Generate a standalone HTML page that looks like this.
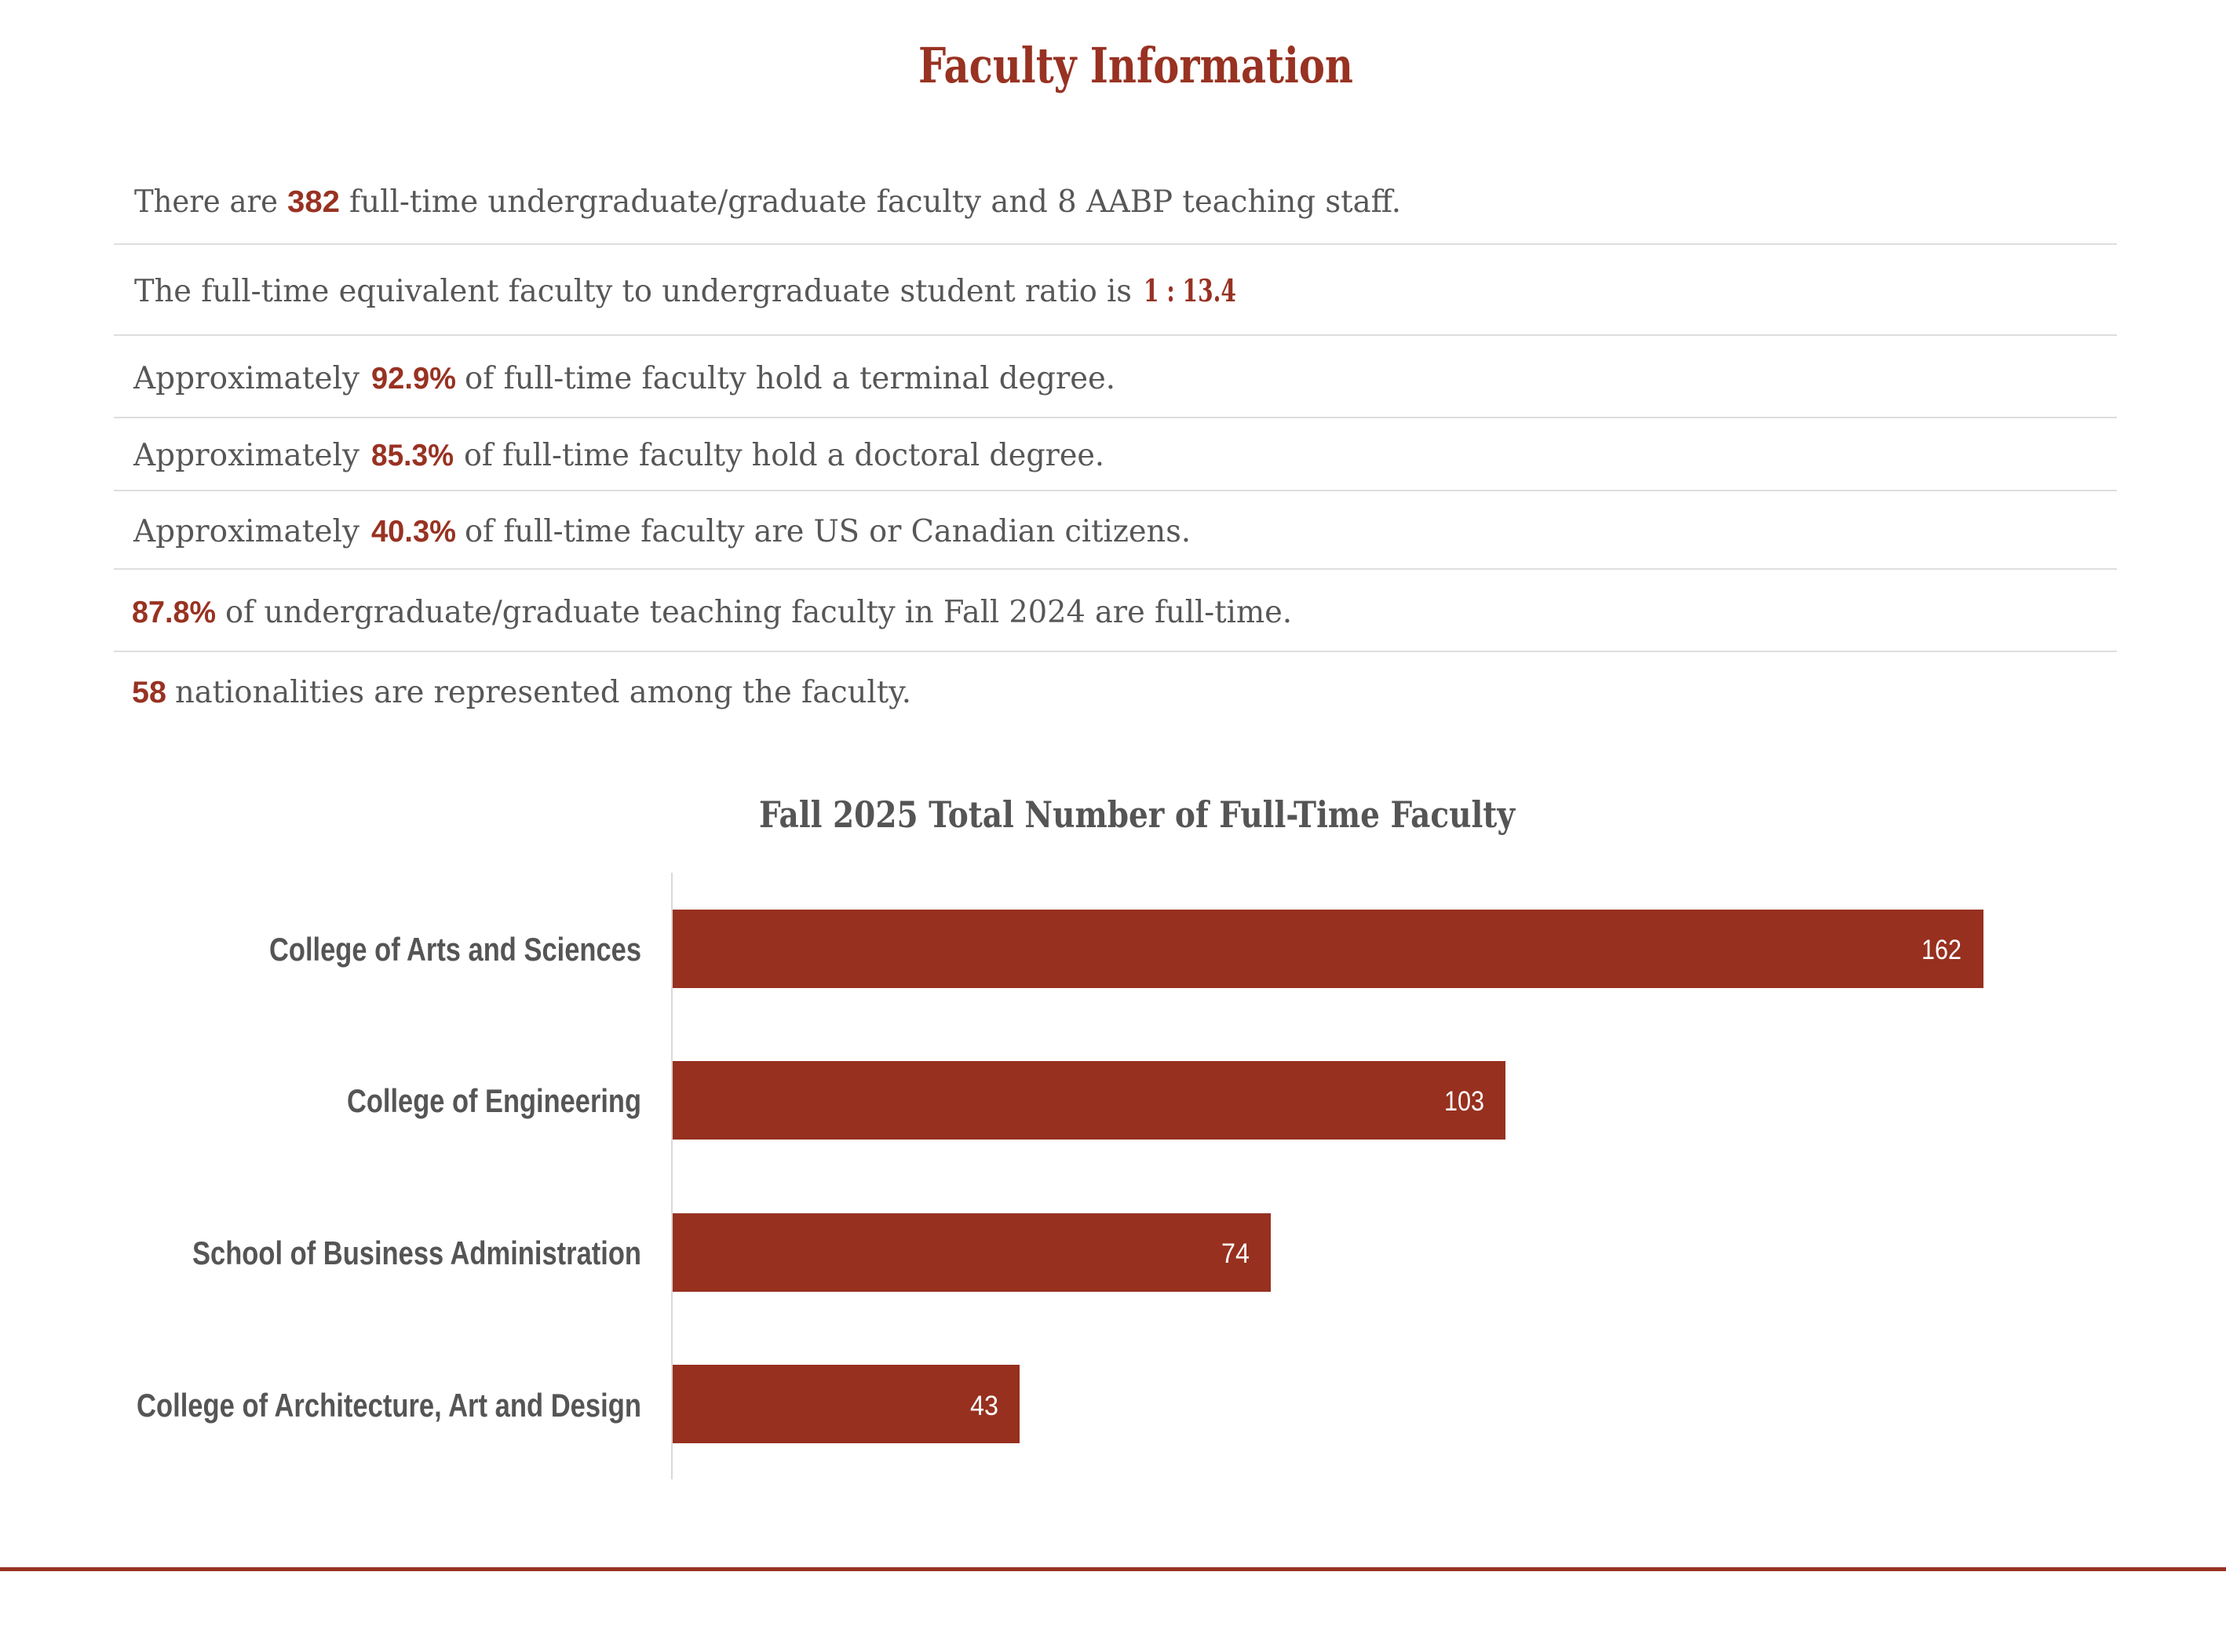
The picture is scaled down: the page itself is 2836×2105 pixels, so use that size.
<!DOCTYPE html>
<html>
<head>
<meta charset="utf-8">
<style>
html,body{margin:0;padding:0;background:#fff;}
svg{display:block;}
.b{font-family:"DejaVu Serif","Liberation Serif",serif;font-size:39px;fill:#575757;}
.r{font-family:"Liberation Sans Narrow","Liberation Sans",sans-serif;font-weight:bold;font-size:39px;fill:#983222;}
.lab{font-family:"Liberation Sans Narrow","Liberation Sans",sans-serif;font-weight:bold;font-size:42px;fill:#555;}
.val{font-family:"Liberation Sans",sans-serif;font-size:35px;fill:#fff;}
</style>
</head>
<body>
<svg width="2836" height="2105" viewBox="0 0 2836 2105" xmlns="http://www.w3.org/2000/svg">
<rect x="0" y="0" width="2836" height="2105" fill="#fff"/>

<!-- Title -->
<text x="1170" y="105" textLength="554" lengthAdjust="spacingAndGlyphs" style="font-family:'DejaVu Serif','Liberation Serif',serif;font-weight:bold;font-size:62px;fill:#983222;">Faculty Information</text>

<!-- Separators -->
<g fill="#dedede">
<rect x="145" y="310" width="2552" height="2"/>
<rect x="145" y="426" width="2552" height="2"/>
<rect x="145" y="531" width="2552" height="2"/>
<rect x="145" y="624" width="2552" height="2"/>
<rect x="145" y="724" width="2552" height="2"/>
<rect x="145" y="829" width="2552" height="2"/>
</g>

<!-- Line 1 -->
<text class="b" x="171" y="270" textLength="183" lengthAdjust="spacingAndGlyphs">There are</text>
<text class="r" x="366" y="270" textLength="67" lengthAdjust="spacingAndGlyphs">382</text>
<text class="b" x="445" y="270" textLength="1340" lengthAdjust="spacingAndGlyphs">full-time undergraduate/graduate faculty and 8 AABP teaching staff.</text>

<!-- Line 2 -->
<text class="b" x="171" y="384" textLength="1271" lengthAdjust="spacingAndGlyphs">The full-time equivalent faculty to undergraduate student ratio is</text>
<text x="1457" y="384" textLength="118" lengthAdjust="spacingAndGlyphs" style="font-family:'DejaVu Serif','Liberation Serif',serif;font-weight:bold;font-size:39px;fill:#983222;">1 : 13.4</text>

<!-- Line 3 -->
<text class="b" x="170" y="495" textLength="288" lengthAdjust="spacingAndGlyphs">Approximately</text>
<text class="r" x="473" y="495" textLength="108" lengthAdjust="spacingAndGlyphs">92.9%</text>
<text class="b" x="592" y="495" textLength="829" lengthAdjust="spacingAndGlyphs">of full-time faculty hold a terminal degree.</text>

<!-- Line 4 -->
<text class="b" x="170" y="593" textLength="288" lengthAdjust="spacingAndGlyphs">Approximately</text>
<text class="r" x="473" y="593" textLength="105" lengthAdjust="spacingAndGlyphs">85.3%</text>
<text class="b" x="591" y="593" textLength="816" lengthAdjust="spacingAndGlyphs">of full-time faculty hold a doctoral degree.</text>

<!-- Line 5 -->
<text class="b" x="170" y="690" textLength="288" lengthAdjust="spacingAndGlyphs">Approximately</text>
<text class="r" x="473" y="690" textLength="108" lengthAdjust="spacingAndGlyphs">40.3%</text>
<text class="b" x="592" y="690" textLength="925" lengthAdjust="spacingAndGlyphs">of full-time faculty are US or Canadian citizens.</text>

<!-- Line 6 -->
<text class="r" x="168" y="793" textLength="107" lengthAdjust="spacingAndGlyphs">87.8%</text>
<text class="b" x="287" y="793" textLength="1359" lengthAdjust="spacingAndGlyphs">of undergraduate/graduate teaching faculty in Fall 2024 are full-time.</text>

<!-- Line 7 -->
<text class="r" x="168" y="895" textLength="44" lengthAdjust="spacingAndGlyphs">58</text>
<text class="b" x="223" y="895" textLength="938" lengthAdjust="spacingAndGlyphs">nationalities are represented among the faculty.</text>

<!-- Chart title -->
<text x="967" y="1054" textLength="963" lengthAdjust="spacingAndGlyphs" style="font-family:'DejaVu Serif','Liberation Serif',serif;font-weight:bold;font-size:46px;fill:#555;">Fall 2025 Total Number of Full-Time Faculty</text>

<!-- Axis -->
<rect x="855" y="1112" width="2" height="773" fill="#d9d9d9"/>

<!-- Bars -->
<g fill="#97301f">
<rect x="857" y="1159" width="1670" height="100"/>
<rect x="857" y="1352" width="1061" height="100"/>
<rect x="857" y="1546" width="762" height="100"/>
<rect x="857" y="1739" width="442" height="100"/>
</g>

<!-- Category labels -->
<text class="lab" x="343" y="1224" textLength="474" lengthAdjust="spacingAndGlyphs">College of Arts and Sciences</text>
<text class="lab" x="442" y="1417" textLength="375" lengthAdjust="spacingAndGlyphs">College of Engineering</text>
<text class="lab" x="245" y="1611" textLength="572" lengthAdjust="spacingAndGlyphs">School of Business Administration</text>
<text class="lab" x="174" y="1805" textLength="643" lengthAdjust="spacingAndGlyphs">College of Architecture, Art and Design</text>

<!-- Values -->
<text class="val" x="2448" y="1222" textLength="51" lengthAdjust="spacingAndGlyphs">162</text>
<text class="val" x="1840" y="1415" textLength="51" lengthAdjust="spacingAndGlyphs">103</text>
<text class="val" x="1556" y="1609" textLength="36" lengthAdjust="spacingAndGlyphs">74</text>
<text class="val" x="1236" y="1803" textLength="36" lengthAdjust="spacingAndGlyphs">43</text>

<!-- Bottom rule -->
<rect x="0" y="1997" width="2836" height="5" fill="#983222"/>
</svg>
</body>
</html>
